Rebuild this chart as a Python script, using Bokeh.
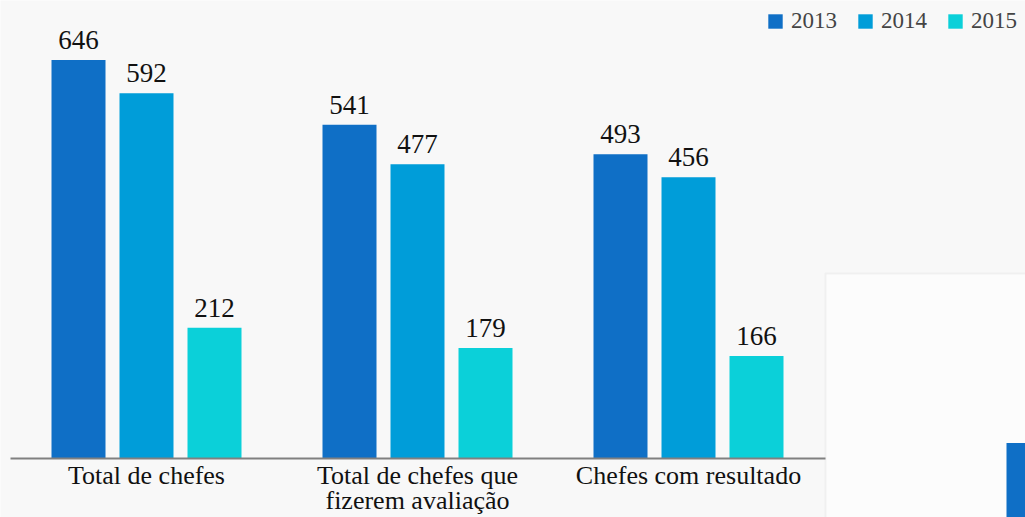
from bokeh.plotting import figure
from bokeh.models import (ColumnDataSource, Range1d, FixedTicker, LabelSet,
                          BoxAnnotation, Legend, LegendItem)
from bokeh.transform import dodge
from bokeh.embed import file_html
from bokeh.resources import INLINE

# ---- data ----
categorias = ["Total de chefes", "Total de chefes que\nfizerem avaliação", "Chefes com resultado"]
anos = ["2013", "2014", "2015"]
v2013 = [646, 541, 493]
v2014 = [592, 477, 456]
v2015 = [212, 179, 166]
cores = ["#0F6FC6", "#009DD9", "#0BD0D9"]

# partially visible neighbouring chart (cropped at the right edge)
painel2_valor = [345]

FONT = "Liberation Serif"

xs = list(range(len(categorias)))
src = ColumnDataSource(dict(
    x=xs,
    v2013=v2013, v2014=v2014, v2015=v2015,
    t2013=[str(v) for v in v2013],
    t2014=[str(v) for v in v2014],
    t2015=[str(v) for v in v2015],
))

W, H = 1025, 517
GROUP_PX = 271.0
X0_PX = 146.0
BASE_PX = 458.0
PX_PER_UNIT = 0.617

x_start = -X0_PX / GROUP_PX
x_end = (W - X0_PX) / GROUP_PX
y_end = BASE_PX / PX_PER_UNIT
y_start = -(H - BASE_PX) / PX_PER_UNIT

p = figure(width=W, height=H, output_backend="svg", toolbar_location=None,
           x_range=Range1d(x_start, x_end), y_range=Range1d(y_start, y_end),
           min_border=0, y_axis_location=None)
p.outline_line_color = None
p.background_fill_color = "#f8f8f8"
p.border_fill_color = "#f8f8f8"
p.xgrid.visible = False
p.ygrid.visible = False

bw = 54 / GROUP_PX
off = 68 / GROUP_PX

# neighbouring white panel
p.add_layout(BoxAnnotation(left=(825 - X0_PX) / GROUP_PX, right=x_end + 1,
                           top=(BASE_PX - 273) / PX_PER_UNIT, bottom=y_start - 200,
                           fill_color="#fcfcfc", fill_alpha=1.0,
                           line_color="#d9d9d9", line_width=2, level="underlay"))

renderers = []
for i, (yr, col) in enumerate(zip(anos, cores)):
    r = p.vbar(x=dodge("x", (i - 1) * off), top="v" + yr, width=bw, source=src,
               fill_color=col, line_color=None)
    renderers.append(r)
    p.add_layout(LabelSet(x=dodge("x", (i - 1) * off), y="v" + yr, text="t" + yr,
                          source=src, text_align="center", text_baseline="alphabetic",
                          y_offset=11, text_font=FONT, text_font_size="27px",
                          text_color="#111111"))

# cropped bar of the neighbouring chart
p.extra_y_ranges = {"painel2": Range1d(195, 1237)}
src2 = ColumnDataSource(dict(x=[(1033 - X0_PX) / GROUP_PX], v=painel2_valor))
p.vbar(x="x", top="v", width=bw, source=src2, y_range_name="painel2",
       fill_color=cores[0], line_color=None)

ax = p.xaxis[0]
ax.fixed_location = 0
ax.bounds = ((10 - X0_PX) / GROUP_PX, (825 - X0_PX) / GROUP_PX)
ax.ticker = FixedTicker(ticks=xs)
ax.major_label_overrides = {i: c for i, c in zip(xs, categorias)}
ax.major_tick_line_color = None
ax.minor_tick_line_color = None
ax.axis_line_color = "#808080"
ax.axis_line_width = 2
ax.major_label_text_font = FONT
ax.major_label_text_font_size = "26px"
ax.major_label_text_color = "#111111"
ax.major_label_text_line_height = 0.88
ax.major_label_standoff = -4

legend = Legend(items=[LegendItem(label=yr, renderers=[r]) for yr, r in zip(anos, renderers)],
                orientation="horizontal", location="top_right",
                label_text_font=FONT, label_text_font_size="23px",
                glyph_width=18, glyph_height=18, label_standoff=7, spacing=19,
                padding=2, margin=8, border_line_color=None,
                background_fill_alpha=0)
p.add_layout(legend, "center")

open("out.html", "w").write(file_html(p, INLINE))
